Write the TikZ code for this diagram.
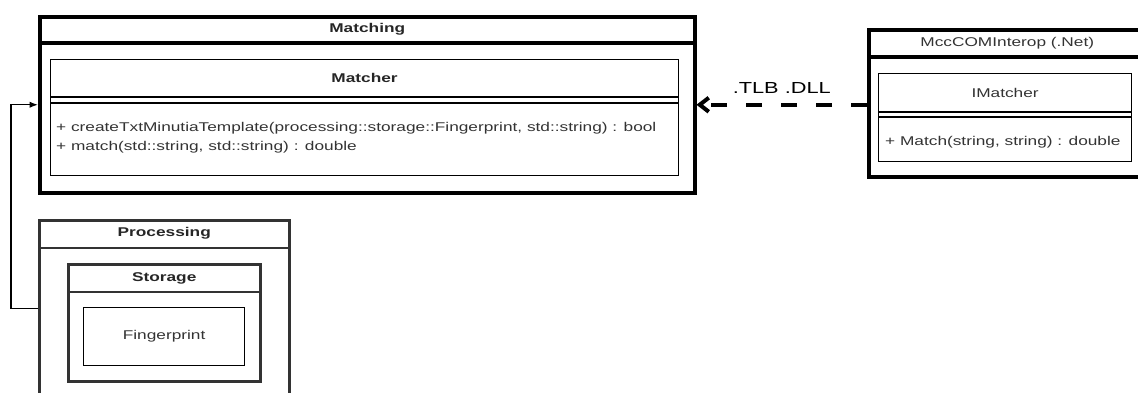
\documentclass[tikz,border=0pt]{standalone}
\usepackage{fontspec}
\setmainfont{Liberation Sans}[FakeStretch=1.36]
\usetikzlibrary{arrows.meta}
\usetikzlibrary{calc}

\begin{document}
\begin{tikzpicture}[x=1pt,y=-1pt,>/.tip={Latex},
	pkg/.style={draw,line width=3.5pt,anchor=north west,inner sep=0pt},
	pkgmid/.style={draw=black!80,line width=2.5pt,anchor=north west,inner sep=0pt},
	cls/.style={draw,line width=1.2pt,anchor=north west,inner sep=0pt},
	txt/.style={font=\fontsize{12.7}{15}\selectfont,text=black!80},
	ttl/.style={font=\fontsize{12.7}{15}\selectfont\bfseries,text=black!85}]
	\clip (0,0) rectangle (1138,392);

	\draw (38,15) node (Matching) [pkg,minimum width=655pt,minimum height=176pt] {};
	\node (MatchingT) [ttl] at ($(Matching.north)+(0,14)$) {Matching};
	\draw [line width=3.5pt] ($(Matching.north west)+(0,28)$) -- ($(Matching.north east)+(0,28)$);
	\draw (50,59) node (Matcher) [cls,minimum width=628pt,minimum height=116pt] {};
	\node (MatcherT) [ttl] at ($(Matcher.north)+(0,19)$) {Matcher};
	\draw [line width=1.2pt] ($(Matcher.north west)+(0,38)$) -- ($(Matcher.north east)+(0,38)$);
	\draw [line width=1.2pt] ($(Matcher.north west)+(0,44)$) -- ($(Matcher.north east)+(0,44)$);
	\node (m1) [txt,anchor=west,inner sep=0pt] at (56,128) {+ createTxtMinutiaTemplate(processing::storage::Fingerprint, std::string) : bool};
	\node (m2) [txt,anchor=west,inner sep=0pt] at (56,147) {+ match(std::string, std::string) : double};

	\draw (867,28) node (Interop) [pkg,minimum width=277pt,minimum height=147pt] {};
	\node (InteropT) [txt] at ($(Interop.north)+(0,15)$) {MccCOMInterop (.Net)};
	\draw [line width=3.5pt] ($(Interop.north west)+(0,29)$) -- ($(Interop.north east)+(0,29)$);
	\draw (878,73) node (IMatcher) [cls,minimum width=253pt,minimum height=88pt] {};
	\node (IMatcherT) [txt] at ($(IMatcher.north)+(0,20)$) {IMatcher};
	\draw [line width=1.2pt] ($(IMatcher.north west)+(0,39)$) -- ($(IMatcher.north east)+(0,39)$);
	\draw [line width=1.2pt] ($(IMatcher.north west)+(0,44)$) -- ($(IMatcher.north east)+(0,44)$);
	\node (im1) [txt,anchor=west,inner sep=0pt] at (885,142) {+ Match(string, string) : double};

	\draw (38,219) node (Processing) [pkgmid,minimum width=250pt,minimum height=176pt] {};
	\node (ProcessingT) [ttl] at ($(Processing.north)+(0,14.5)$) {Processing};
	\draw [line width=2pt,black!80] ($(Processing.north west)+(0,29)$) -- ($(Processing.north east)+(0,29)$);
	\draw (67,263) node (Storage) [pkgmid,minimum width=192pt,minimum height=117pt] {};
	\node (StorageT) [ttl] at ($(Storage.north)+(0,15)$) {Storage};
	\draw [line width=2pt,black!80] ($(Storage.north west)+(0,29)$) -- ($(Storage.north east)+(0,29)$);
	\draw (83,307) node (Fingerprint) [cls,minimum width=161pt,minimum height=58pt,txt] {Fingerprint};

	\draw [->,line width=1.2pt] (Processing.west) -- ++(-27,0) |- (Matching.west);
	\draw [line width=4pt,dash pattern=on 16pt off 19pt,-{Straight Barb[length=9pt,width=14pt]}] (Interop.west |- Matching.east) -- (Matching.east);
	\node (dll) [font=\fontsize{16}{19}\selectfont] at ($(Matching.east)!0.5!(Interop.west |- Matching.east)+(0,-17)$) {.TLB .DLL};
\end{tikzpicture}
\end{document}
